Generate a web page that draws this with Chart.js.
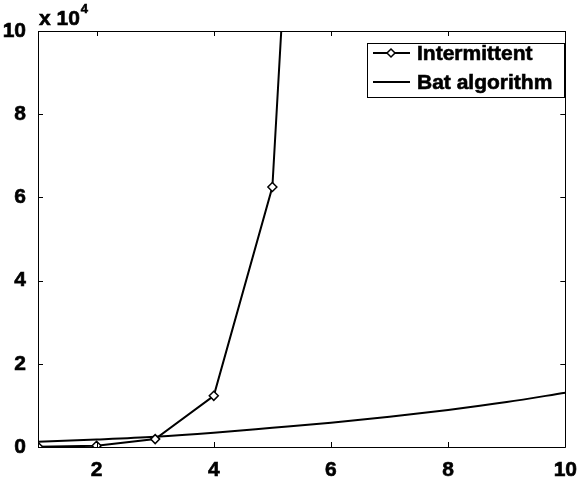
<!DOCTYPE html>
<html>
<head>
<meta charset="utf-8">
<script src="https://cdn.jsdelivr.net/npm/chart.js@4"></script>
<style>
  html, body { margin: 0; padding: 0; background: #fff; }
  #wrap { width: 580px; height: 483px; }
</style>
</head>
<body>
<div id="wrap"><canvas id="myChart" width="580" height="483"></canvas></div>
<script>
'use strict';

// ******* DATA *******

let xValues = [1, 2, 3, 4, 5, 6, 7, 8, 9, 10];
let intermittentX = [1, 2, 3, 4, 5, 6];
let intermittentY = [50, 300, 1900, 12300, 62500, 310000];
let batY = [1270, 1800, 2450, 3420, 4620, 5850, 7250, 8900, 10800, 13050];

let xTicks = [2, 4, 6, 8, 10];
let yTicks = [0, 20000, 40000, 60000, 80000, 100000];

let seriesNames = ['Intermittent', 'Bat algorithm'];

const FONT = 'Liberation Sans, Arial, Helvetica, sans-serif';


// ******* HELPERS *******

function toPoints(xs, ys) {
  let pts = [];
  for (let i = 0; i < ys.length; i++) {
    pts.push({ x: xs[i], y: ys[i] });
  }
  return pts;
}

function heavyText(ctx, txt, x, y) {
  ctx.fillText(txt, x, y);
  ctx.strokeText(txt, x, y);
}

// frame, inward ticks, exponent label and legend box (matlab look)
const matlabFrame = {
  id: 'matlabFrame',
  afterDraw(chart) {
    const ctx = chart.ctx;
    const a = chart.chartArea;
    const xs = chart.scales.x;
    const ys = chart.scales.y;
    const tl = 5;

    ctx.save();
    ctx.strokeStyle = '#000';
    ctx.lineWidth = 1;
    ctx.beginPath();
    ctx.rect(Math.round(a.left) + 0.5, Math.round(a.top) + 0.5,
      Math.round(a.right - a.left), Math.round(a.bottom - a.top));
    ctx.stroke();

    ctx.beginPath();
    xTicks.forEach(v => {
      let px = Math.round(xs.getPixelForValue(v)) + 0.5;
      ctx.moveTo(px, a.bottom); ctx.lineTo(px, a.bottom - tl);
      ctx.moveTo(px, a.top); ctx.lineTo(px, a.top + tl);
    });
    yTicks.forEach(v => {
      let py = Math.round(ys.getPixelForValue(v)) + 0.5;
      ctx.moveTo(a.left, py); ctx.lineTo(a.left + tl, py);
      ctx.moveTo(a.right, py); ctx.lineTo(a.right - tl, py);
    });
    ctx.stroke();

    // exponent label
    ctx.fillStyle = '#000';
    ctx.lineWidth = 0.6;
    ctx.textBaseline = 'alphabetic';
    ctx.textAlign = 'left';
    ctx.font = 'bold 21px ' + FONT;
    heavyText(ctx, 'x 10', a.left + 1, 25);
    let w = ctx.measureText('x 10').width;
    ctx.font = 'bold 13px ' + FONT;
    heavyText(ctx, '4', a.left + 1 + w + 1, 13);

    // legend
    let bx = 367, by = 43, bw = 197, bh = 54;
    ctx.fillStyle = '#fff';
    ctx.fillRect(bx, by, bw, bh);
    ctx.strokeStyle = '#000';
    ctx.lineWidth = 1;
    ctx.strokeRect(bx + 0.5, by + 0.5, bw, bh);

    let rows = [53, 82];
    rows.forEach((ry, i) => {
      ctx.lineWidth = 2;
      ctx.beginPath();
      ctx.moveTo(373, ry); ctx.lineTo(410, ry);
      ctx.stroke();
      if (i === 0) {
        ctx.beginPath();
        ctx.moveTo(391, ry - 4); ctx.lineTo(395, ry);
        ctx.lineTo(391, ry + 4); ctx.lineTo(387, ry);
        ctx.closePath();
        ctx.fillStyle = '#fff';
        ctx.fill();
        ctx.lineWidth = 1.5;
        ctx.stroke();
      }
      ctx.fillStyle = '#000';
      ctx.lineWidth = 0.6;
      ctx.font = 'bold 21px ' + FONT;
      ctx.textBaseline = 'middle';
      heavyText(ctx, seriesNames[i], 417, ry + 1);
    });
    ctx.restore();
  }
};


// ******* CHART *******

const ctx = document.getElementById('myChart').getContext('2d');
const myChart = new Chart(ctx, {
  type: 'line',
  data: {
    datasets: [{
      label: seriesNames[0],
      data: toPoints(intermittentX, intermittentY),
      borderColor: '#000',
      borderWidth: 2,
      pointStyle: 'rectRot',
      pointRadius: 4.5,
      pointBorderWidth: 1.5,
      pointBackgroundColor: '#fff',
      pointBorderColor: '#000',
      tension: 0
    }, {
      label: seriesNames[1],
      data: toPoints(xValues, batY),
      borderColor: '#000',
      borderWidth: 2,
      pointRadius: 0,
      cubicInterpolationMode: 'monotone'
    }]
  },
  options: {
    responsive: false,
    animation: false,
    layout: { padding: { left: 0, right: 13, top: 31, bottom: 0 } },
    plugins: {
      legend: { display: false },
      tooltip: { enabled: false }
    },
    scales: {
      x: {
        type: 'linear',
        min: 1,
        max: 10,
        afterBuildTicks: (s) => { s.ticks = xTicks.map(v => ({ value: v })); },
        afterFit: (s) => { s.height = 36; },
        grid: { display: false },
        border: { display: false },
        ticks: {
          color: '#000',
          padding: 3,
          textStrokeColor: '#000',
          textStrokeWidth: 0.6,
          font: { family: FONT, size: 21, weight: 'bold' }
        }
      },
      y: {
        min: 0,
        max: 100000,
        afterBuildTicks: (s) => { s.ticks = yTicks.map(v => ({ value: v })); },
        afterFit: (s) => { s.width = 38; },
        grid: { display: false },
        border: { display: false },
        ticks: {
          color: '#000',
          padding: 4,
          textStrokeColor: '#000',
          textStrokeWidth: 0.6,
          font: { family: FONT, size: 21, weight: 'bold' },
          callback: (v) => String(v / 10000)
        }
      }
    }
  },
  plugins: [matlabFrame]
});
</script>
</body>
</html>
